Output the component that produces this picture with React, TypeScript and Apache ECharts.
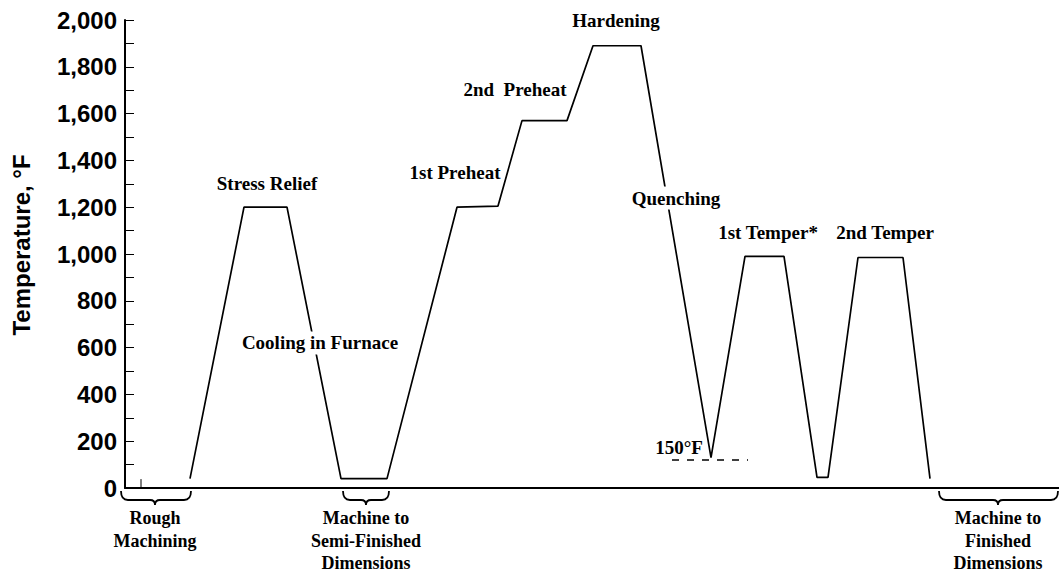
import React, { useEffect, useRef } from "react";
import * as echarts from "echarts";

// Process curve (arbitrary time units along x, °F on y)
const timeX = [65, 119, 162, 216, 262, 332, 373, 397, 442, 468, 516, 586, 620, 659, 692, 703, 733, 778, 805];
const tempF = [40, 1200, 1200, 40, 40, 1200, 1205, 1570, 1570, 1890, 1890, 130, 990, 990, 45, 45, 985, 985, 40];

// 150°F reference dashed line
const refX = [547, 623];
const refT = [120, 120];

// small start mark on the time axis
const startMarkX = [16, 16];
const startMarkT = [0, 38];

// Step annotations [x, y, text, whiteBackground]
const stepLabels: [number, number, string, boolean][] = [
  [142, 1303, "Stress Relief", false],
  [195, 620, "Cooling in Furnace", true],
  [330, 1350, "1st Preheat", false],
  [390, 1701, "2nd  Preheat", false],
  [491, 1996, "Hardening", false],
  [551, 1239, "Quenching", true],
  [643, 1090, "1st Temper*", false],
  [760, 1090, "2nd Temper", false],
  [554, 175, "150°F", false],
];

// Machining braces below axis [start, end, center, label]
const braces: [number, number, number, string][] = [
  [-4, 66, 30, "Rough\nMachining"],
  [218, 264, 241, "Machine to\nSemi-Finished\nDimensions"],
  [814, 933, 873, "Machine to\nFinished\nDimensions"],
];

const yTicks = [0, 200, 400, 600, 800, 1000, 1200, 1400, 1600, 1800, 2000];

const SERIF = '"Liberation Serif", "Times New Roman", serif';
const SANS = '"Liberation Sans", Arial, sans-serif';

export default function App() {
  const ref = useRef<HTMLDivElement>(null);
  useEffect(() => {
    const chart = echarts.init(ref.current!, null, { renderer: "svg" });
    chart.setOption({
      animation: false,
      backgroundColor: "#ffffff",
      grid: { left: 125, right: 0, top: 20, bottom: 87 },
      xAxis: {
        type: "value",
        min: 0,
        max: 934,
        axisLine: { show: true, lineStyle: { color: "#000", width: 2 } },
        axisTick: { show: false },
        axisLabel: { show: false },
        splitLine: { show: false },
      },
      yAxis: {
        type: "value",
        min: 0,
        max: 2000,
        interval: 100,
        name: "Temperature, °F",
        nameLocation: "middle",
        nameGap: 92,
        nameTextStyle: {
          fontFamily: SANS,
          fontWeight: "bold",
          fontSize: 24,
          color: "#000",
          padding: [0, 0, 0, 18],
        },
        axisLine: { show: true, lineStyle: { color: "#000", width: 2 } },
        axisTick: { show: true, inside: true, length: 9, lineStyle: { color: "#000", width: 1 } },
        axisLabel: {
          margin: 8,
          fontFamily: SANS,
          fontWeight: "bold",
          fontSize: 24,
          color: "#000",
          formatter: (v: number) => (yTicks.indexOf(v) >= 0 ? v.toLocaleString("en-US") : ""),
        },
        splitLine: { show: false },
      },
      series: [
        {
          type: "line",
          data: timeX.map((x, i) => [x, tempF[i]]),
          symbol: "none",
          lineStyle: { color: "#000", width: 1.7 },
          z: 2,
        },
        {
          type: "line",
          data: refX.map((x, i) => [x, refT[i]]),
          symbol: "none",
          lineStyle: { color: "#000", width: 1.5, type: [7, 8] },
          z: 2,
        },
        {
          type: "line",
          data: startMarkX.map((x, i) => [x, startMarkT[i]]),
          symbol: "none",
          lineStyle: { color: "#000", width: 1 },
          z: 2,
        },
        {
          type: "custom",
          z: 5,
          data: stepLabels.map((d) => [d[0], d[1], d[2], d[3] ? 1 : 0]),
          renderItem: (params: any, api: any) => {
            const p = api.coord([api.value(0), api.value(1)]);
            const item = stepLabels[params.dataIndex];
            return {
              type: "text",
              x: p[0],
              y: p[1],
              style: {
                text: item[2],
                fill: "#000",
                font: `bold 19px ${SERIF}`,
                align: "center",
                verticalAlign: "middle",
                backgroundColor: item[3] ? "#fff" : undefined,
                padding: item[3] ? [2, 2] : 0,
              },
            };
          },
        },
        {
          type: "custom",
          z: 5,
          data: braces.map((b) => [b[0], b[1], b[2]]),
          renderItem: (params: any, api: any) => {
            const b = braces[params.dataIndex];
            const a = api.coord([b[0], 0]);
            const e = api.coord([b[1], 0]);
            const c = api.coord([b[2], 0]);
            const y0 = a[1] + 3;
            const h = 9;
            const x1 = a[0];
            const x2 = e[0];
            const xc = c[0];
            const d =
              `M${x1} ${y0} Q${x1} ${y0 + h} ${x1 + 7} ${y0 + h} ` +
              `L${xc - 5} ${y0 + h} Q${xc} ${y0 + h} ${xc} ${y0 + h + 5} ` +
              `Q${xc} ${y0 + h} ${xc + 5} ${y0 + h} ` +
              `L${x2 - 7} ${y0 + h} Q${x2} ${y0 + h} ${x2} ${y0}`;
            return {
              type: "group",
              children: [
                {
                  type: "path",
                  shape: { pathData: d },
                  style: { fill: "none", stroke: "#000", lineWidth: 1.8 },
                },
                {
                  type: "text",
                  x: xc,
                  y: a[1] + 19,
                  style: {
                    text: b[3],
                    fill: "#000",
                    font: `bold 18px ${SERIF}`,
                    align: "center",
                    verticalAlign: "top",
                    lineHeight: 22.5,
                  },
                },
              ],
            };
          },
        },
      ],
    });
    return () => chart.dispose();
  }, []);
  return (
    <div
      ref={ref}
      style={{ position: "absolute", left: 0, top: 0, width: 1059, height: 575 }}
    />
  );
}
